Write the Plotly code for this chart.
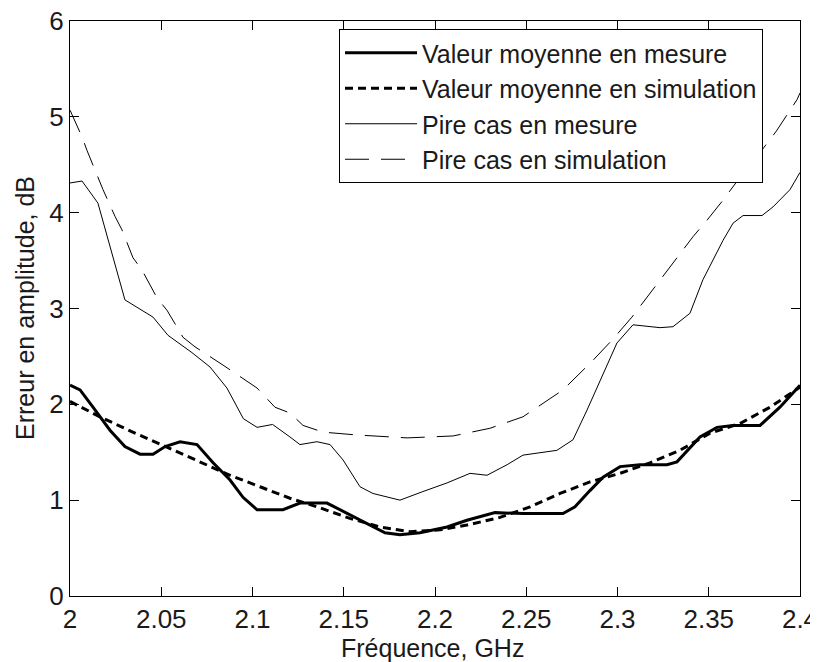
import plotly.graph_objects as go

# Valeur moyenne en mesure
f_mean_meas = [2.0, 2.0055, 2.0126, 2.0219, 2.0301, 2.0384, 2.0455, 2.0521, 2.0603, 2.0696,
               2.0784, 2.0877, 2.0948, 2.1025, 2.1167, 2.126, 2.1408, 2.148, 2.1589, 2.1726,
               2.1808, 2.1918, 2.2066, 2.2175, 2.2329, 2.2482, 2.2701, 2.2767, 2.2849, 2.2921,
               2.3014, 2.3123, 2.3271, 2.3326, 2.3452, 2.3545, 2.3633, 2.3781, 2.389, 2.4]
v_mean_meas = [2.20, 2.15, 1.97, 1.73, 1.56, 1.48, 1.48, 1.56, 1.61, 1.58,
               1.39, 1.21, 1.03, 0.90, 0.90, 0.97, 0.97, 0.90, 0.79, 0.66,
               0.64, 0.66, 0.72, 0.79, 0.87, 0.86, 0.86, 0.93, 1.10, 1.24,
               1.35, 1.37, 1.37, 1.40, 1.66, 1.76, 1.78, 1.78, 1.97, 2.20]

# Valeur moyenne en simulation
f_mean_sim = [2.0, 2.0164, 2.0356, 2.0548, 2.0712, 2.0877, 2.1041, 2.1205, 2.137, 2.1534,
              2.1699, 2.1863, 2.2027, 2.2175, 2.2356, 2.2521, 2.2685, 2.2849, 2.3014, 2.3178,
              2.3342, 2.3507, 2.3671, 2.3836, 2.4]
v_mean_sim = [2.03, 1.87, 1.70, 1.54, 1.40, 1.26, 1.14, 1.02, 0.92, 0.81,
              0.72, 0.67, 0.69, 0.74, 0.82, 0.93, 1.07, 1.19, 1.28, 1.39,
              1.52, 1.70, 1.80, 1.97, 2.18]

# Pire cas en mesure
f_worst_meas = [2.0, 2.0066, 2.0153, 2.0301, 2.0455, 2.0537, 2.0668, 2.0767, 2.086, 2.095,
                2.1025, 2.111, 2.1205, 2.126, 2.1353, 2.1425, 2.1496, 2.1589, 2.166, 2.1808,
                2.1934, 2.2066, 2.2192, 2.2285, 2.2395, 2.2482, 2.2668, 2.2756, 2.2833, 2.2915,
                2.2997, 2.3085, 2.3233, 2.3304, 2.3397, 2.3468, 2.3578, 2.3633, 2.3688, 2.3792,
                2.3852, 2.3945, 2.4]
v_worst_meas = [4.31, 4.33, 4.10, 3.09, 2.91, 2.72, 2.54, 2.39, 2.17, 1.85,
                1.76, 1.79, 1.66, 1.58, 1.61, 1.58, 1.42, 1.14, 1.07, 1.00,
                1.09, 1.18, 1.28, 1.26, 1.37, 1.47, 1.52, 1.63, 1.94, 2.29,
                2.64, 2.83, 2.80, 2.81, 2.95, 3.30, 3.71, 3.89, 3.97, 3.97,
                4.06, 4.24, 4.42]

# Pire cas en simulation
f_worst_sim = [2.0, 2.0066, 2.0093, 2.0153, 2.0181, 2.0247, 2.0285, 2.0345, 2.0395, 2.0477,
               2.0532, 2.0619, 2.0685, 2.0838, 2.0915, 2.1025, 2.1123, 2.1205, 2.1277, 2.1386,
               2.1573, 2.1847, 2.2099, 2.2301, 2.2482, 2.2701, 2.2866, 2.297, 2.3079, 2.3162,
               2.3304, 2.3414, 2.349, 2.3578, 2.366, 2.375, 2.387, 2.3984, 2.4]
v_worst_sim = [5.07, 4.79, 4.65, 4.36, 4.24, 3.96, 3.82, 3.53, 3.40, 3.11,
               2.98, 2.70, 2.60, 2.41, 2.31, 2.17, 1.97, 1.91, 1.78, 1.71,
               1.68, 1.65, 1.67, 1.75, 1.87, 2.15, 2.46, 2.67, 2.91, 3.12,
               3.47, 3.75, 3.92, 4.13, 4.34, 4.55, 4.85, 5.18, 5.25]

names = ["Valeur moyenne en mesure", "Valeur moyenne en simulation",
         "Pire cas en mesure", "Pire cas en simulation"]

x_ticks = [2, 2.05, 2.1, 2.15, 2.2, 2.25, 2.3, 2.35, 2.4]
x_tick_labels = ["2", "2.05", "2.1", "2.15", "2.2", "2.25", "2.3", "2.35", "2.4"]
y_ticks = [0, 1, 2, 3, 4, 5, 6]
x_title = "Fréquence, GHz"
y_title = "Erreur en amplitude, dB"

FONT = "Liberation Sans, Arial, sans-serif"
FS_TICK = 26
FS_LEG = 25
FS_TITLE = 25
TXT = "#1a1a1a"

# The page body has an 8px default margin: compensate so that the plot
# area lands at page pixels x 70..800, y 21..596.
OFF = 8
W, H = 818, 662
L, R, T, B = 70 - OFF, 800 - OFF, 21 - OFF, 596 - OFF


def px_x(p):
    return (p - OFF - L) / (R - L)


def px_y(p):
    return (B - (p - OFF)) / (B - T)


fig = go.Figure()
fig.add_trace(go.Scatter(x=f_mean_meas, y=v_mean_meas, mode="lines", name=names[0],
                         line=dict(color="black", width=3), legendgroup="a"))
fig.add_trace(go.Scatter(x=f_mean_sim, y=v_mean_sim, mode="lines", name=names[1],
                         line=dict(color="black", width=3, dash="8px,5px"), legendgroup="b"))
fig.add_trace(go.Scatter(x=f_worst_meas, y=v_worst_meas, mode="lines", name=names[2],
                         line=dict(color="black", width=1), legendgroup="c"))
fig.add_trace(go.Scatter(x=f_worst_sim, y=v_worst_sim, mode="lines", name=names[3],
                         line=dict(color="black", width=1, dash="24px,12px"), legendgroup="d"))

axis_common = dict(showline=True, linecolor="black", linewidth=1, mirror="ticks",
                   ticks="inside", ticklen=9, tickcolor="black", showgrid=False,
                   zeroline=False, automargin=False, ticklabeloverflow="allow",
                   tickfont=dict(family=FONT, size=FS_TICK, color=TXT))

fig.update_layout(
    width=W, height=H,
    paper_bgcolor="white", plot_bgcolor="white",
    margin=dict(l=L, r=W - R, t=T, b=H - B, autoexpand=False),
    font=dict(family=FONT, size=FS_TICK, color=TXT),
    xaxis=dict(range=[2, 2.4], tickvals=x_ticks, ticktext=x_tick_labels, **axis_common),
    yaxis=dict(range=[0, 6], tickvals=y_ticks, **axis_common),
    legend=dict(x=px_x(339), y=px_y(29), xanchor="left", yanchor="top",
                bgcolor="white", bordercolor="black", borderwidth=1,
                font=dict(family=FONT, size=FS_LEG, color=TXT),
                tracegroupgap=0, itemwidth=72),
    showlegend=True,
    annotations=[
        dict(text=x_title, xref="paper", yref="paper", x=px_x(432),
             y=px_y(648), xanchor="center", yanchor="middle",
             showarrow=False, font=dict(family=FONT, size=FS_TITLE, color=TXT)),
        dict(text=y_title, xref="paper", yref="paper", x=px_x(25),
             y=px_y(308), xanchor="center", yanchor="middle", textangle=-90,
             showarrow=False, font=dict(family=FONT, size=FS_TITLE, color=TXT)),
    ],
)

fig.write_html("out.html")
